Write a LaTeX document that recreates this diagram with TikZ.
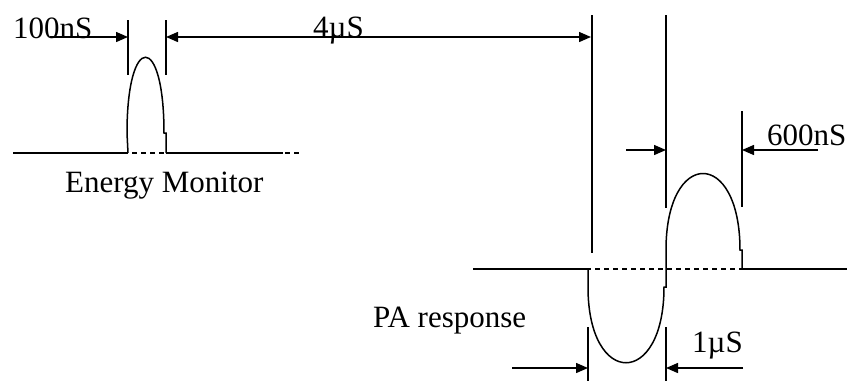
\documentclass[tikz,border=0pt]{standalone}
\usepackage{fontspec}
\setmainfont{Liberation Serif}
\usetikzlibrary{arrows.meta}
\begin{document}
\begin{tikzpicture}[x=1pt,y=-1pt,
  wave/.style={line width=1.5pt},
  marker/.style={line width=1.4pt},
  dimarrow/.style={line width=1.4pt,-{Triangle[length=12pt,width=10pt]}},
  dimboth/.style={line width=1.4pt,{Triangle[length=12pt,width=10pt]}-{Triangle[length=12pt,width=10pt]}},
  baseline solid/.style={line width=1.5pt},
  baseline dash/.style={line width=2.4pt,dash pattern=on 4.5pt off 4.5pt},
  lbl/.style={inner sep=0pt,anchor=base west,font=\fontsize{31}{34}\selectfont}]
\useasboundingbox (0,0) rectangle (847,381);
% ---- coordinates ----
\coordinate (lb0) at (13,153);
\coordinate (lpL) at (128,153);
\coordinate (lpR) at (166,153);
\coordinate (lb1) at (283,153);
\coordinate (ld0) at (33,153);
\coordinate (ld1) at (302,153);
\coordinate (rb0) at (473,269);
\coordinate (rpL) at (588,269);
\coordinate (rpR) at (742,269);
\coordinate (rb1) at (847,269);
\coordinate (rd0) at (532,269);
\coordinate (rd1) at (800,269);
% markers
\coordinate (m1a) at (128,20); \coordinate (m1b) at (128,75);
\coordinate (m2a) at (166,20); \coordinate (m2b) at (166,75);
\coordinate (m3a) at (592,15); \coordinate (m3b) at (592,253);
\coordinate (m4a) at (666,15); \coordinate (m4b) at (666,208);
\coordinate (m5a) at (742,111); \coordinate (m5b) at (742,207);
\coordinate (m6a) at (588,327); \coordinate (m6b) at (588,381);
\coordinate (m7a) at (666,327); \coordinate (m7b) at (666,381);
% arrow ends
\coordinate (a1s) at (50,37); \coordinate (a1e) at (128,37);
\coordinate (a2s) at (166,37); \coordinate (a2e) at (591,37);
\coordinate (a3s) at (626,150); \coordinate (a3e) at (666,150);
\coordinate (a4s) at (818,150); \coordinate (a4e) at (742,150);
\coordinate (a5s) at (512,368); \coordinate (a5e) at (588,368);
\coordinate (a6s) at (743,368); \coordinate (a6e) at (666,368);
% ---- baselines ----
\draw[baseline solid] (lb0) -- (lpL);
\draw[baseline solid] (lpR) -- (lb1);
\draw[baseline dash] (ld0) -- (ld1);
\draw[baseline solid] (rb0) -- (rpL);
\draw[baseline solid] (rpR) -- (rb1);
\draw[baseline dash] (rd0) -- (rd1);
% ---- waveforms ----
\draw[wave] (lpL) -- (127,133) .. controls (127,32) and (164,32) .. (164,133) -- (166,133) -- (lpR);
\draw[wave] (rpL) -- (588,287) .. controls (588,388) and (664,388) .. (664,287) -- (666,287) -- (666,250)
  .. controls (666,148) and (740,148) .. (740,250) -- (742,250) -- (rpR);
% ---- markers ----
\foreach \i in {1,...,7} {\draw[marker] (m\i a) -- (m\i b);}
% ---- dimension arrows ----
\draw[dimarrow] (a1s) -- (a1e);
\draw[dimboth] (a2s) -- (a2e);
\draw[dimarrow] (a3s) -- (a3e);
\draw[dimarrow] (a4s) -- (a4e);
\draw[dimarrow] (a5s) -- (a5e);
\draw[dimarrow] (a6s) -- (a6e);
% ---- labels ----
\node[lbl] (t100) at (13,38) {100nS};
\node[lbl] (t4) at (313,37) {4µS};
\node[lbl] (t600) at (767,145) {600nS};
\node[lbl] (t1) at (692,352) {1µS};
\node[lbl] (tem) at (65,192) {Energy Monitor};
\node[lbl] (tpa) at (373,327) {PA response};
\end{tikzpicture}
\end{document}
